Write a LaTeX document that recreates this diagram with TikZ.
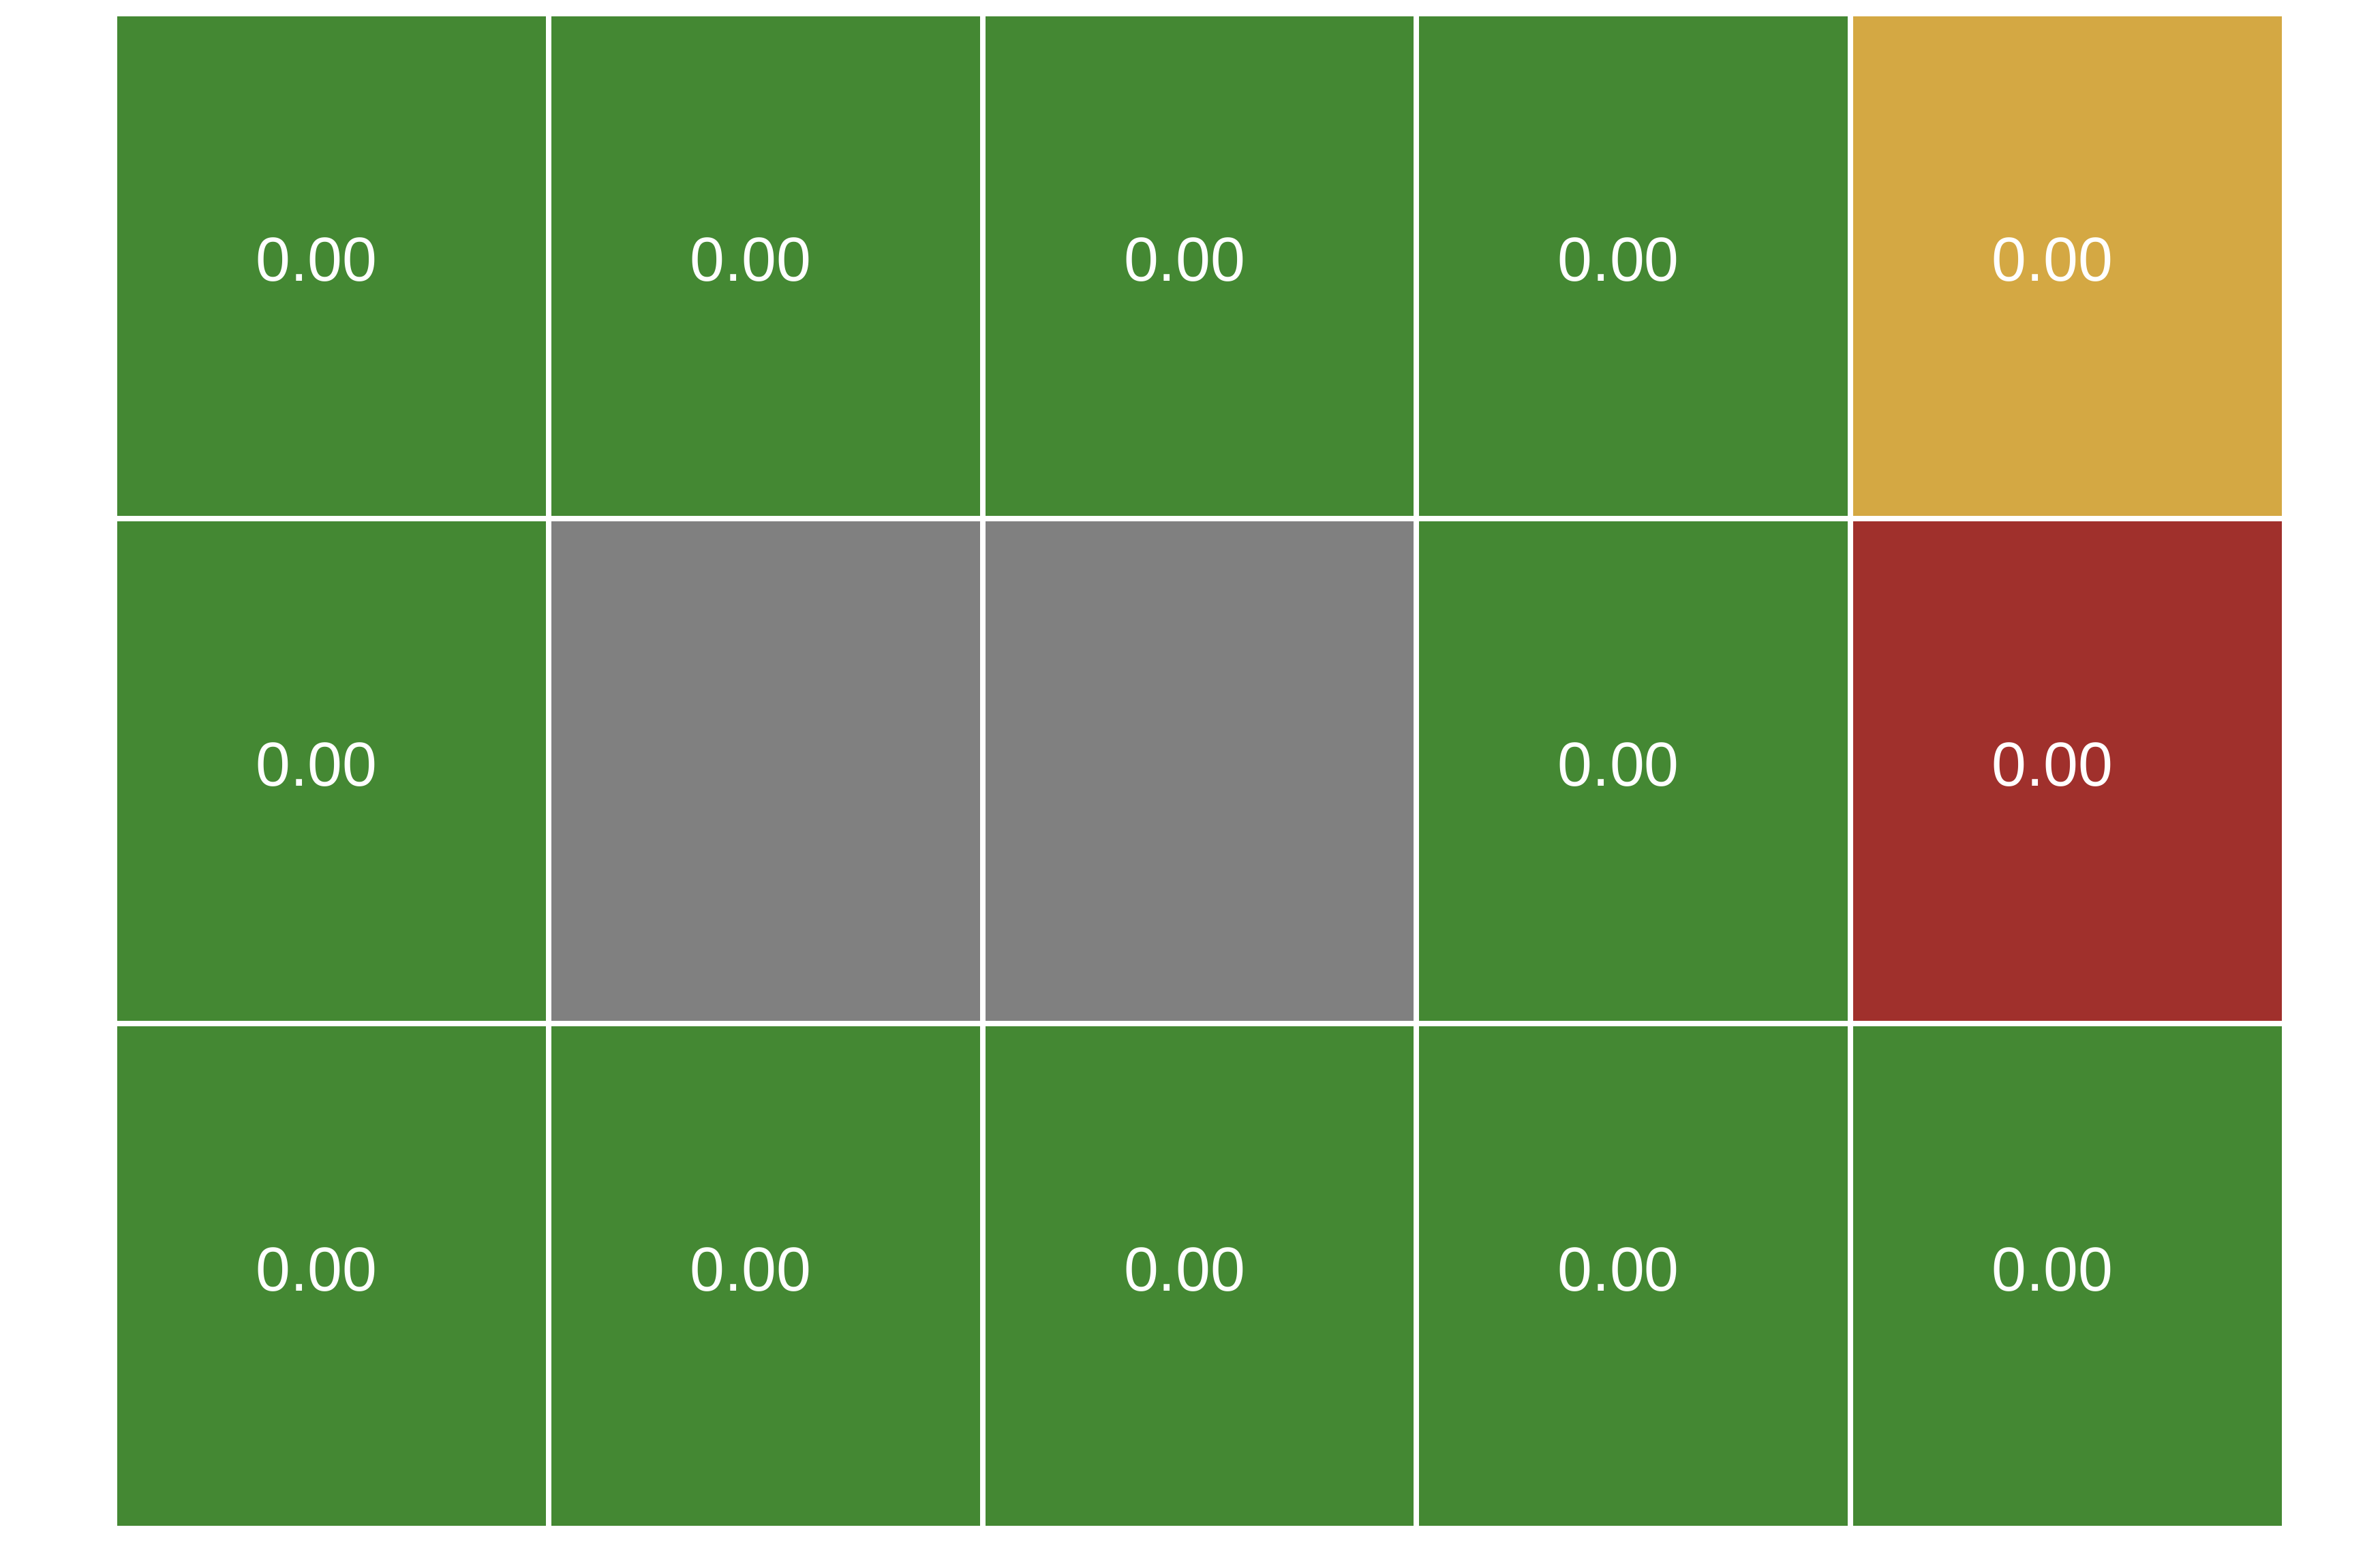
\documentclass[tikz,border=0pt]{standalone}
\usepackage{fontspec}
\setmainfont{Liberation Sans}
\usetikzlibrary{positioning}
\definecolor{cellgreen}{RGB}{68, 136, 51}
\definecolor{cellgold}{RGB}{212, 168, 67}
\definecolor{cellred}{RGB}{160, 48, 44}
\definecolor{cellgray}{RGB}{128, 128, 128}
\newcommand{\cellval}[1]{\hspace*{-0.44cm}\raisebox{0.09cm}[\height][\depth]{#1}}

\begin{document}
\begin{tikzpicture}[
                cell/.style={draw=white, line width=0.8mm, inner sep=0pt,
                             minimum width=6.368cm, minimum height=7.41cm,
                             text=white, font=\fontsize{26}{30}\selectfont},
                open/.style={cell, fill=cellgreen},
                goal/.style={cell, fill=cellgold},
                trap/.style={cell, fill=cellred},
                wall/.style={cell, fill=cellgray}
            ]

            \useasboundingbox (0, 0) rectangle (34.92, 22.76);

            % top row
            \node[open] (c11) at (4.864, 18.855) {\cellval{0.00}};
            \node[open] (c12) at (11.232, 18.855) {\cellval{0.00}};
            \node[open] (c13) at (17.600, 18.855) {\cellval{0.00}};
            \node[open] (c14) at (23.968, 18.855) {\cellval{0.00}};
            \node[goal] (c15) at (30.336, 18.855) {\cellval{0.00}};

            % middle row
            \node[open] (c21) at (4.864, 11.445) {\cellval{0.00}};
            \node[wall] (c22) at (11.232, 11.445) {};
            \node[wall] (c23) at (17.600, 11.445) {};
            \node[open] (c24) at (23.968, 11.445) {\cellval{0.00}};
            \node[trap] (c25) at (30.336, 11.445) {\cellval{0.00}};

            % bottom row
            \node[open] (c31) at (4.864, 4.035) {\cellval{0.00}};
            \node[open] (c32) at (11.232, 4.035) {\cellval{0.00}};
            \node[open] (c33) at (17.600, 4.035) {\cellval{0.00}};
            \node[open] (c34) at (23.968, 4.035) {\cellval{0.00}};
            \node[open] (c35) at (30.336, 4.035) {\cellval{0.00}};

            \end{tikzpicture}
\end{document}
